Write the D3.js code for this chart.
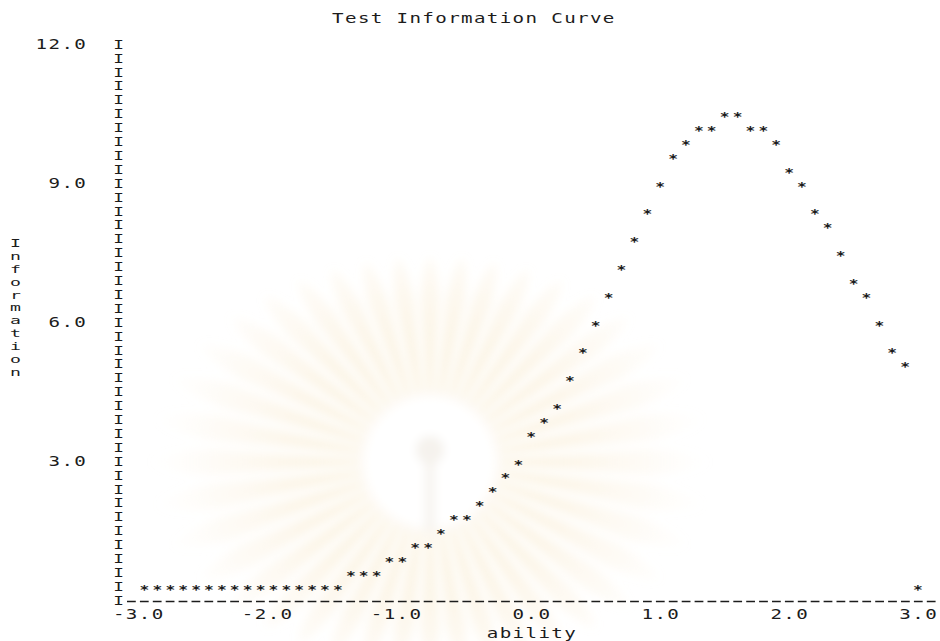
<!DOCTYPE html>
<html>
<head>
<meta charset="utf-8">
<script src="https://cdn.jsdelivr.net/npm/d3@7/dist/d3.min.js"></script>
<style>
  html, body { margin: 0; padding: 0; background: #ffffff; }
  svg { display: block; }
</style>
</head>
<body>
<svg id="chart" width="940" height="641"></svg>
<script>
// ---- data: test information by ability (line-printer style plot) ----
const ability = [
  -3.0, -2.9, -2.8, -2.7, -2.6, -2.5, -2.4, -2.3, -2.2, -2.1,
  -2.0, -1.9, -1.8, -1.7, -1.6, -1.5, -1.4, -1.3, -1.2, -1.1,
  -1.0, -0.9, -0.8, -0.7, -0.6, -0.5, -0.4, -0.3, -0.2, -0.1,
   0.0,  0.1,  0.2,  0.3,  0.4,  0.5,  0.6,  0.7,  0.8,  0.9,
   1.0,  1.1,  1.2,  1.3,  1.4,  1.5,  1.6,  1.7,  1.8,  1.9,
   2.0,  2.1,  2.2,  2.3,  2.4,  2.5,  2.6,  2.7,  2.8,  2.9,
   3.0
];
const information = [
  0.3, 0.3, 0.3, 0.3, 0.3, 0.3, 0.3, 0.3, 0.3, 0.3,
  0.3, 0.3, 0.3, 0.3, 0.3, 0.3, 0.6, 0.6, 0.6, 0.9,
  0.9, 1.2, 1.2, 1.5, 1.8, 1.8, 2.1, 2.4, 2.7, 3.0,
  3.6, 3.9, 4.2, 4.8, 5.4, 6.0, 6.6, 7.2, 7.8, 8.4,
  9.0, 9.6, 9.9, 10.2, 10.2, 10.5, 10.5, 10.2, 10.2, 9.9,
  9.3, 9.0, 8.4, 8.1, 7.5, 6.9, 6.6, 6.0, 5.4, 5.1,
  0.3
];
const yTickValues = [3.0, 6.0, 9.0, 12.0];
const xTickValues = [-3.0, -2.0, -1.0, 0.0, 1.0, 2.0, 3.0];
const titleText = "Test Information Curve";
const xTitleText = "ability";
const yTitleText = "Information";

// ---- layout: every character sits in a fixed text cell ----
const svg = d3.select("#chart");
const x = d3.scaleLinear().domain([-3, 3]).range([144.5, 918]);
const y = d3.scaleLinear().domain([0, 12]).range([600.5, 44.5]);
const colStep = 0.1, rowStep = 0.3;
const cellW = x(colStep) - x(0);
const stretch = 1.42;          // widen the mono glyphs to fill a cell
const ink = "#1c1c1c";

// faint emblem printed behind the plot
const defs = svg.append("defs");
defs.append("filter").attr("id", "soft")
  .attr("x", "-20%").attr("y", "-20%").attr("width", "140%").attr("height", "140%")
  .append("feGaussianBlur").attr("stdDeviation", 5);
const rg = defs.append("radialGradient").attr("id", "rays")
  .attr("gradientUnits", "userSpaceOnUse")
  .attr("cx", 430).attr("cy", 462).attr("r", 285);
[[0, "#f6e2b6", 0.0], [0.22, "#f4dca8", 0.38], [0.5, "#f6e2b8", 0.3],
 [0.8, "#f9ecd2", 0.16], [1, "#fbf3e4", 0]].forEach(([o, c, a]) =>
  rg.append("stop").attr("offset", o).attr("stop-color", c).attr("stop-opacity", a));

const emblem = svg.append("g").attr("filter", "url(#soft)");
const cx0 = 430, cy0 = 462, nRays = 40;
const rayPath = i => {
  const a = (i / nRays) * 2 * Math.PI;
  const half = Math.PI / nRays * 0.75;
  const rOut = t => {
    const rx = 280, ry = 205;
    return 1 / Math.sqrt((Math.cos(t) / rx) ** 2 + (Math.sin(t) / ry) ** 2);
  };
  const r0 = 60, r1 = rOut(a);
  const p = (r, t) => [cx0 + r * Math.cos(t), cy0 + r * Math.sin(t)];
  const b1 = p(r0, a - half * 0.5), b2 = p(r0, a + half * 0.5);
  const m1 = p(r1 * 0.8, a - half), m2 = p(r1 * 0.8, a + half);
  const tip = p(r1, a);
  return `M${b1}L${m1}Q${p(r1 * 0.97, a - half * 0.6)} ${tip}Q${p(r1 * 0.97, a + half * 0.6)} ${m2}L${b2}Z`;
};
emblem.selectAll("path.ray").data(d3.range(nRays)).join("path")
  .attr("class", "ray").attr("d", rayPath).attr("fill", "url(#rays)");
emblem.append("circle").attr("cx", cx0).attr("cy", cy0).attr("r", 66).attr("fill", "#ffffff");
emblem.append("circle").attr("cx", cx0).attr("cy", 450).attr("r", 14).attr("fill", "#f1ede6").attr("opacity", 0.7);
emblem.append("rect").attr("x", 425).attr("y", 462).attr("width", 10).attr("height", 70).attr("fill", "#f3efe8").attr("opacity", 0.7);

// ---- text cells ----
const txt = svg.append("g")
  .attr("font-family", "'DejaVu Sans Mono', 'Liberation Mono', monospace")
  .attr("font-size", 13.5)
  .attr("fill", ink);

function cell(g, ch, cx, baseline, sx = stretch) {
  g.append("text")
    .attr("transform", `translate(${cx.toFixed(2)},${baseline.toFixed(2)}) scale(${sx},1)`)
    .attr("text-anchor", "middle")
    .text(ch);
}
const capMid = 4.9;   // baseline offset that centres digits/capitals on a row
const starMid = 7.0;  // baseline offset that centres '*' on a row

// title
const gTitle = txt.append("g");
titleText.split("").forEach((ch, i) => {
  if (ch !== " ") cell(gTitle, ch, x(-3 + (15 + i) * colStep), 23);
});

// vertical axis: a column of 'I' cells, one per row from 0 to 12
const gAxis = txt.append("g");
const axisX = x(-3 - 2 * colStep);
const gBar = gAxis.append("g").attr("font-size", 11.5);
d3.range(0, 41).forEach(r => cell(gBar, "I", axisX, y(r * rowStep) + 4.2, 1.55));

// horizontal axis: dashed rule, one dash per character cell
gAxis.append("line")
  .attr("x1", x(-3 - colStep) - 4.6).attr("x2", x(3 + colStep) + 6.4)
  .attr("y1", y(0) + 1).attr("y2", y(0) + 1)
  .attr("stroke", ink).attr("stroke-width", 1.3)
  .attr("stroke-dasharray", `${(cellW * 0.68).toFixed(2)} ${(cellW * 0.32).toFixed(2)}`);

// y tick labels, right aligned three cells left of the axis column
yTickValues.forEach(v => {
  const s = v.toFixed(1);
  s.split("").forEach((ch, i) => {
    const col = -5 - (s.length - 1 - i);
    cell(gAxis, ch, x(-3 + col * colStep), y(v) + capMid);
  });
});

// x tick labels, decimal point under the tick
xTickValues.forEach(v => {
  const s = v.toFixed(1);
  const dot = s.indexOf(".");
  s.split("").forEach((ch, i) => {
    cell(gAxis, ch, x(v + (i - dot) * colStep), y(-rowStep) + capMid);
  });
});

// axis titles
xTitleText.split("").forEach((ch, i) => {
  cell(gAxis, ch, x(-3 + (27 + i) * colStep), 637.5);
});
// y title: letters stacked top to bottom, slightly smaller so the stack stays tight
const gYTitle = gAxis.append("g").attr("font-size", 11);
yTitleText.split("").forEach((ch, i) => {
  cell(gYTitle, ch, x(-3 - 10 * colStep), 247 + i * cellW, 1.65);
});

// the information curve, one '*' per ability point
txt.append("g").attr("font-weight", "bold").attr("font-size", 12.5).selectAll("text.pt")
  .data(ability.map((a, i) => ({ a, v: information[i] })))
  .join("text")
  .attr("class", "pt")
  .attr("transform", d => `translate(${x(d.a).toFixed(2)},${(y(d.v) + starMid).toFixed(2)}) scale(1.3,1)`)
  .attr("text-anchor", "middle")
  .text("*");
</script>
</body>
</html>
